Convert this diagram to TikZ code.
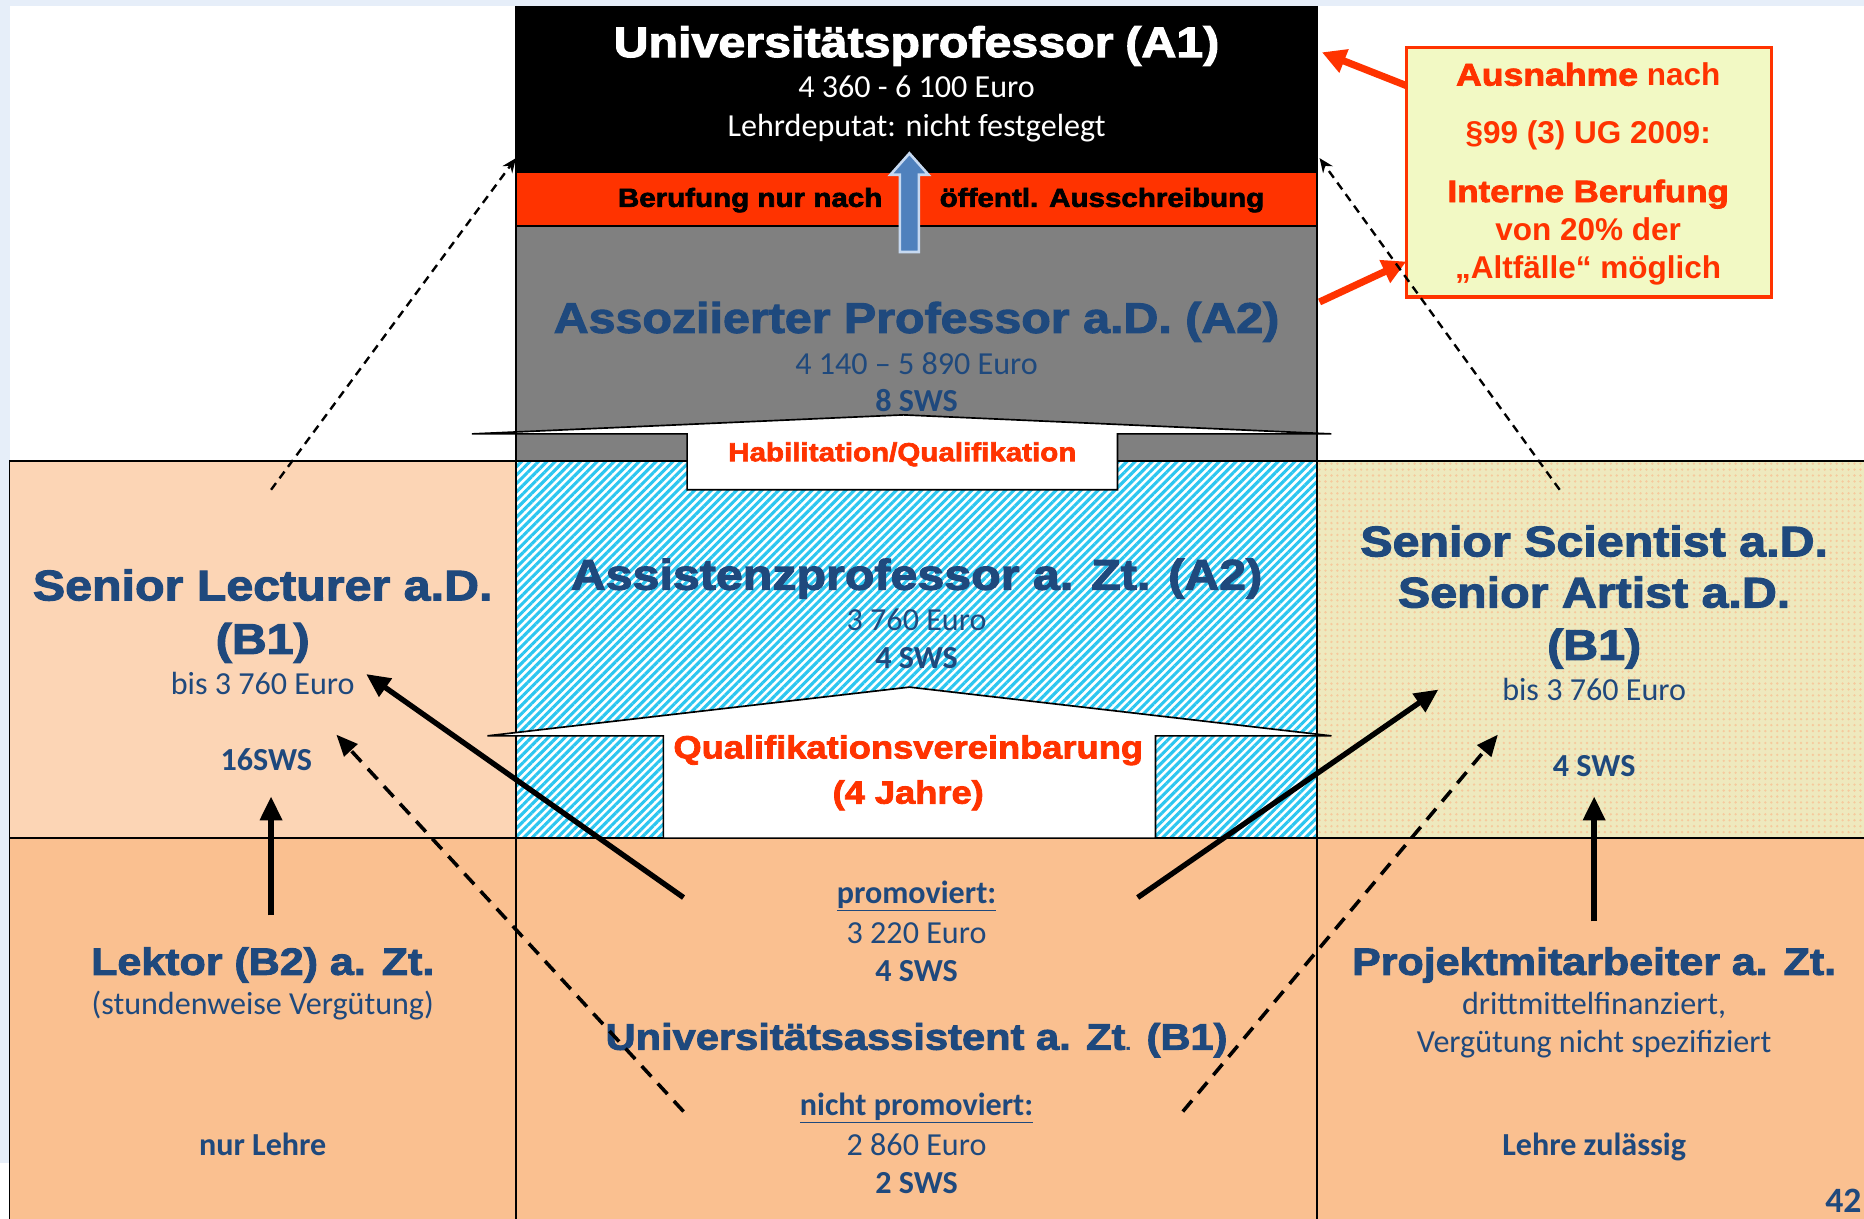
\documentclass[tikz,border=0pt]{standalone}
\usepackage{fontspec}
\setmainfont{Carlito}
\newfontfamily\heavyfont{Liberation Sans}[UprightFont={* Bold},FakeStretch=1.13,FakeBold=2.5]
\newfontfamily\arialfont{Liberation Sans}
\usetikzlibrary{arrows.meta,patterns.meta,positioning}

\definecolor{navy}{HTML}{1F497D}
\definecolor{signal}{HTML}{FF3300}
\definecolor{peachlight}{HTML}{FCD5B5}
\definecolor{peach}{HTML}{FAC090}
\definecolor{khaki}{HTML}{EEE9BE}
\definecolor{khakidot}{HTML}{F6C99C}
\definecolor{stripe}{HTML}{2CC6F0}
\definecolor{noteback}{HTML}{F2F9C4}
\definecolor{slideblue}{HTML}{E6EEF9}
\definecolor{arrowblue}{HTML}{4F81BD}
\definecolor{arrowrim}{HTML}{C6D9F1}
\definecolor{midgray}{HTML}{808080}

\tikzset{
  frame/.style={draw=black,line width=1.6pt},
  heavy/.style={font=\heavyfont\fontsize{36}{40}\selectfont,
    text=navy,anchor=base,inner sep=0pt},
  info/.style={font=\fontsize{27}{30}\selectfont,
    text=navy,anchor=base,inner sep=0pt},
  infobold/.style={font=\bfseries\fontsize{27}{30}\selectfont,
    text=navy,anchor=base,inner sep=0pt},
  redhead/.style={font=\heavyfont\fontsize{22}{26}\selectfont,
    text=signal,anchor=base,inner sep=0pt},
  note/.style={font=\arialfont\bfseries\fontsize{26.5}{30}\selectfont,
    text=signal,anchor=base,inner sep=0pt},
  notch/.style={draw=black,fill=white,line width=1.4pt},
  thindash/.style={line width=2pt,dash pattern=on 7pt off 5pt,
    -{Stealth[length=12pt,width=10pt]}},
  thickarrow/.style={line width=4.5pt,-{Triangle[length=20pt,width=18pt]}},
  thickdash/.style={line width=3pt,dash pattern=on 12pt off 8pt,
    -{Triangle[length=18pt,width=15pt]}},
  redarrow/.style={signal,line width=6pt,-{Triangle[length=20pt,width=20pt]}}
}

\begin{document}
\begin{tikzpicture}[x=1pt,y=-1pt,line join=miter]
  \useasboundingbox (0,0) rectangle (1568,1025);

  % Spalten und Zeilen
  \def\xa{8}
  \def\xb{434}
  \def\xc{1108}
  \def\xd{1575}
  \def\ya{5}
  \def\yb{145}
  \def\yc{190}
  \def\yd{388}
  \def\ye{705}
  \def\yf{1030}

  % Folienrand
  \fill[white] (0,0) rectangle (1568,1025);
  \fill[slideblue] (0,0) rectangle (1568,\ya);
  \fill[slideblue] (0,0) rectangle (\xa,978);

  % Flaechen
  \fill[black] (\xb,\ya) rectangle (\xc,\yb);
  \fill[signal] (\xb,\yb) rectangle (\xc,\yc);
  \fill[midgray] (\xb,\yc) rectangle (\xc,\yd);
  \fill[peachlight] (\xa,\yd) rectangle (\xb,\ye);
  \fill[white] (\xb,\yd) rectangle (\xc,\ye);
  \fill[pattern={Lines[angle=45,distance=5pt,line width=2.6pt]},
    pattern color=stripe] (\xb,\yd) rectangle (\xc,\ye);
  \fill[khaki] (\xc,\yd) rectangle (\xd,\ye);
  \fill[pattern={Dots[distance=5pt,radius=1.1pt]},
    pattern color=khakidot] (\xc,\yd) rectangle (\xd,\ye);
  \fill[peach] (\xa,\ye) rectangle (\xd,\yf);

  % Linien
  \draw[frame] (\xa,\yf) -- (\xa,\yd) -- (\xd,\yd);
  \draw[frame] (\xa,\ye) -- (\xd,\ye);
  \draw[frame] (\xb,\ya) -- (\xb,\yf);
  \draw[frame] (\xc,\ya) -- (\xc,\yf);
  \draw[frame] (\xb,\yb) -- (\xc,\yb);
  \draw[frame] (\xb,\yc) -- (\xc,\yc);

  % Stufen (Habilitation, Qualifikationsvereinbarung)
  \draw[notch]
    (397,365) -- (760,349) -- (1120,365) -- (940,365)
    -- (940,412) -- (578,412) -- (578,365) -- cycle;
  \draw[notch]
    (410,619) -- (765,578) -- (1120,619) -- (972,619)
    -- (972,\ye) -- (558,\ye) -- (558,619) -- cycle;

  % Blauer Pfeil
  \draw[arrowrim,fill=arrowblue,line width=2.2pt]
    (757,212) -- (757,147) -- (749,147) -- (765,129)
    -- (781,147) -- (773,147) -- (773,212) -- cycle;

  % Universitaetsprofessor
  \node[heavy,text=white] (up) at (771,48)
    {Universitätsprofessor\hspace{10pt}(A1)};
  \node[info,text=white] (upEuro) at (771,82) {4 360 - 6 100 Euro};
  \node[info,text=white] (upLehr) at (771,115) {Lehrdeputat: nicht festgelegt};
  \node[redhead,text=black] (beruf1) at (631,174) {Berufung nur nach};
  \node[redhead,text=black] (beruf2) at (927,174) {öffentl. Ausschreibung};

  % Assoziierter Professor
  \node[heavy] (ap) at (771,280) {Assoziierter Professor a.D. (A2)};
  \node[info] (apEuro) at (771,315) {4 140 – 5 890 Euro};
  \node[infobold] (apSWS) at (771,346) {8 SWS};
  \node[redhead] (habil) at (759,388) {Habilitation/Qualifikation};

  % Assistenzprofessor
  \node[heavy] (asp) at (771,496) {Assistenzprofessor a. Zt. (A2)};
  \node[info] (aspEuro) at (771,530) {3 760 Euro};
  \node[infobold] (aspSWS) at (771,562) {4 SWS};
  \node[redhead,font=\heavyfont\fontsize{27}{30}\selectfont]
    (qv) at (764,638) {Qualifikationsvereinbarung};
  \node[redhead,font=\heavyfont\fontsize{27}{30}\selectfont]
    (qvJahre) at (764,676) {(4 Jahre)};

  % Senior Lecturer
  \node[heavy] (sl) at (221,505) {Senior Lecturer a.D.};
  \node[heavy] (slB) at (221,550) {(B1)};
  \node[info] (slEuro) at (221,584) {bis 3 760 Euro};
  \node[infobold] (slSWS) at (224,648) {16SWS};

  % Senior Scientist / Artist
  \node[heavy] (ss) at (1341,468) {Senior Scientist a.D.};
  \node[heavy] (sa) at (1341,511) {Senior Artist a.D.};
  \node[heavy] (ssB) at (1341,555) {(B1)};
  \node[info] (ssEuro) at (1341,589) {bis 3 760 Euro};
  \node[infobold] (ssSWS) at (1341,653) {4 SWS};

  % Lektor
  \node[heavy,font=\heavyfont\fontsize{32}{36}\selectfont]
    (lk) at (221,820) {Lektor (B2) a. Zt.};
  \node[info] (lkVerg) at (221,853) {(stundenweise Vergütung)};
  \node[infobold] (lkLehre) at (221,972) {nur Lehre};

  % Universitaetsassistent
  \node[infobold] (ua1) at (771,760) {\underline{promoviert:}};
  \node[info] (ua1Euro) at (771,794) {3 220 Euro};
  \node[infobold] (ua1SWS) at (771,826) {4 SWS};
  \node[heavy,font=\heavyfont\fontsize{31}{34}\selectfont]
    (ua) at (771,883)
    {Universitätsassistent a. Zt{\fontsize{15}{15}\selectfont.} (B1)};
  \node[infobold] (ua2) at (771,938) {\underline{nicht promoviert:}};
  \node[info] (ua2Euro) at (771,972) {2 860 Euro};
  \node[infobold] (ua2SWS) at (771,1004) {2 SWS};

  % Projektmitarbeiter
  \node[heavy,font=\heavyfont\fontsize{32}{36}\selectfont]
    (pm) at (1341,820) {Projektmitarbeiter a. Zt.};
  \node[info] (pmFin) at (1341,853) {drittmittelfinanziert,};
  \node[info] (pmVerg) at (1341,885) {Vergütung nicht spezifiziert};
  \node[infobold] (pmLehre) at (1341,972) {Lehre zulässig};

  % Seitenzahl
  \node[infobold,anchor=base east,font=\bfseries\fontsize{30}{32}\selectfont]
    (page) at (1566,1020) {42};

  % Hinweis
  \node[draw=signal,fill=noteback,line width=3pt,
    minimum width=307pt,minimum height=210pt,inner sep=0pt]
    (note) at (1336.5,145) {};
  \node[note] (note1) at (1336,72)
    {{\heavyfont Ausnahme} nach};
  \node[note] (note2) at (1336,121) {§99 (3) UG 2009:};
  \node[note,font=\heavyfont\fontsize{26}{30}\selectfont]
    (note3) at (1336,170) {Interne Berufung};
  \node[note] (note4) at (1336,202) {von 20\% der};
  \node[note] (note5) at (1336,234) {„Altfälle“ möglich};

  % Endpunkte der Pfeile
  \coordinate (noteA) at (1183,72);
  \coordinate (upSide) at (1112,44);
  \coordinate (apSide) at (1110,254);
  \coordinate (noteB) at (1183,220);
  \coordinate (slTop) at (228,412);
  \coordinate (upLeft) at (434,133);
  \coordinate (ssTop) at (1312,412);
  \coordinate (upRight) at (1110,133);
  \coordinate (ua1L) at (575,755);
  \coordinate (slHead) at (308,567);
  \coordinate (ua1R) at (957,755);
  \coordinate (ssHead) at (1210,580);
  \coordinate (lkTop) at (228,770);
  \coordinate (lkHead) at (228,670);
  \coordinate (pmTop) at (1341,775);
  \coordinate (pmHead) at (1341,670);
  \coordinate (ua2L) at (575,935);
  \coordinate (slDash) at (283,618);
  \coordinate (ua2R) at (995,935);
  \coordinate (ssDash) at (1260,618);

  % Pfeile
  \draw[redarrow] (noteA) -- (upSide);
  \draw[redarrow] (apSide) -- (noteB);
  \draw[thindash] (slTop) -- (upLeft);
  \draw[thindash] (ssTop) -- (upRight);
  \draw[thickarrow] (ua1L) -- (slHead);
  \draw[thickarrow] (ua1R) -- (ssHead);
  \draw[thickarrow] (lkTop) -- (lkHead);
  \draw[thickarrow] (pmTop) -- (pmHead);
  \draw[thickdash] (ua2L) -- (slDash);
  \draw[thickdash] (ua2R) -- (ssDash);
\end{tikzpicture}
\end{document}
